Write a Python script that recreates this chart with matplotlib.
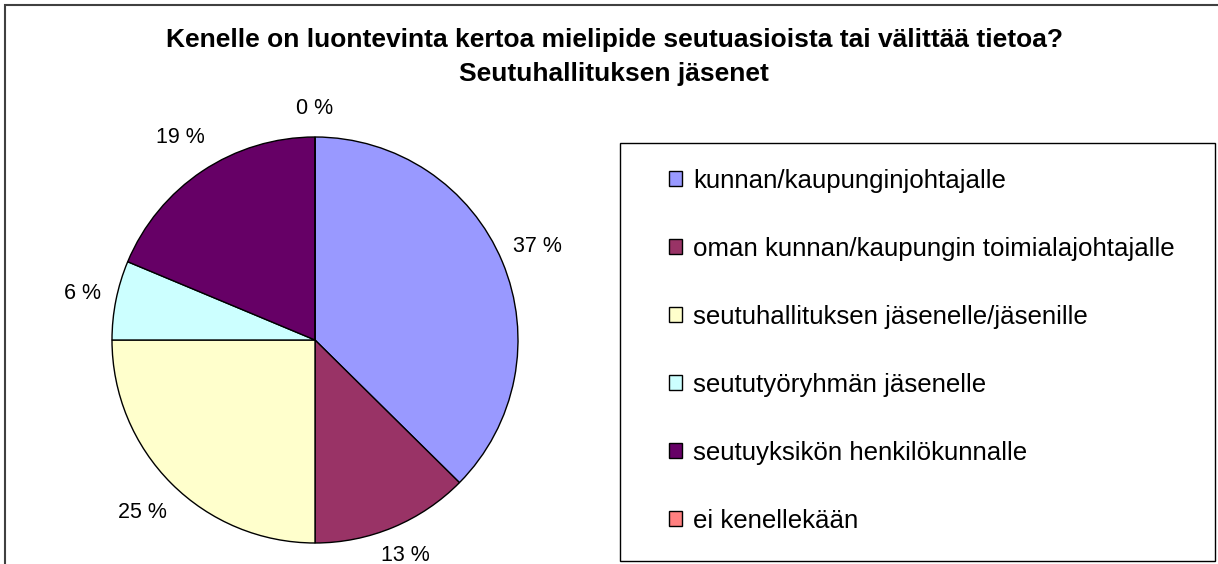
import numpy as np
import matplotlib.pyplot as plt
from matplotlib.patches import Rectangle

plt.rcParams['font.family'] = ['Liberation Sans', 'DejaVu Sans']

title_lines = ['Kenelle on luontevinta kertoa mielipide seutuasioista tai välittää tietoa?',
               'Seutuhallituksen jäsenet']
categories = ['kunnan/kaupunginjohtajalle',
              'oman kunnan/kaupungin toimialajohtajalle',
              'seutuhallituksen jäsenelle/jäsenille',
              'seututyöryhmän jäsenelle',
              'seutuyksikön henkilökunnalle',
              'ei kenellekään']
shares = [37.4, 12.6, 25.0, 6.3, 18.7, 0.0]
colors = ['#9999FF', '#993366', '#FFFFCC', '#CCFFFF', '#660066', '#FF8080']
# distance of each percentage label from the centre (in radii)
label_dist = [1.19, 1.15, 1.20, 1.17, 1.20, 1.14]

W, H = 1218, 564
fig = plt.figure(figsize=(W / 100, H / 100), dpi=100)

# outer chart frame (only top and left visible)
fig.patches.append(Rectangle((5 / W, -0.1), 1.2, 1 - 5 / H + 0.1, transform=fig.transFigure,
                             fill=False, edgecolor='#404040', linewidth=1.5))

# pie
cx, cy, r = 315, 340, 203
ax = fig.add_axes([(cx - r) / W, (H - cy - r) / H, 2 * r / W, 2 * r / H])
wedges, texts, autotexts = ax.pie(shares, colors=colors, startangle=90, counterclock=False,
                                  autopct='%.0f %%', pctdistance=1.2,
                                  wedgeprops=dict(edgecolor='black', linewidth=1.0),
                                  textprops=dict(fontsize=15.5, color='black'))
for w, t, d in zip(wedges, autotexts, label_dist):
    mid = np.deg2rad((w.theta1 + w.theta2) / 2)
    t.set_position((d * np.cos(mid), d * np.sin(mid)))
    t.set_clip_on(False)
ax.set_xlim(-1, 1)
ax.set_ylim(-1, 1)
ax.set_aspect('equal')
ax.axis('off')

# titles
fig.text(614 / W, 1 - 40 / H, title_lines[0], ha='center', va='center',
         fontsize=19, fontweight='bold')
fig.text(614 / W, 1 - 74 / H, title_lines[1], ha='center', va='center',
         fontsize=19, fontweight='bold')

# legend box + legend
fig.patches.append(Rectangle((620 / W, 1 - 561 / H), (1215 - 620) / W, (561 - 143) / H,
                             transform=fig.transFigure, fill=False,
                             edgecolor='black', linewidth=1.0))
fig.legend(wedges, categories, loc='upper left', bbox_to_anchor=(669 / W, 1 - 169 / H),
           frameon=False, fontsize=18.6, borderpad=0, borderaxespad=0,
           handlelength=0.52, handleheight=0.52, handletextpad=0.4, labelspacing=1.70)

fig.savefig('out.png', dpi=100)
